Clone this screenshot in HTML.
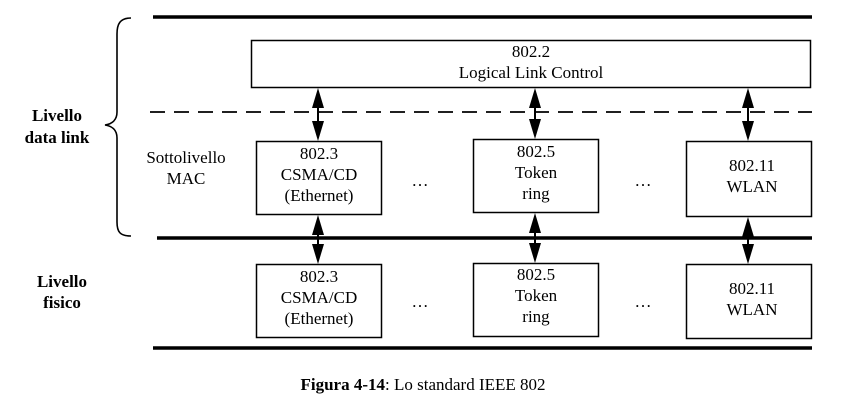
<!DOCTYPE html>
<html><head><style>
body{margin:0;background:#fff;}
svg{display:block;font-family:"Liberation Serif",serif;}
</style></head><body>
<svg width="847" height="414" viewBox="0 0 847 414" xmlns="http://www.w3.org/2000/svg">
<g stroke="#000" fill="none">
<line x1="153" y1="17" x2="812" y2="17" stroke-width="3.5"/>
<line x1="157" y1="238" x2="812" y2="238" stroke-width="3.5"/>
<line x1="153" y1="348" x2="812" y2="348" stroke-width="3.5"/>
<line x1="150" y1="112" x2="812" y2="112" stroke-width="1.8" stroke-dasharray="15,9"/>
<rect x="251.5" y="40.5" width="559" height="47" stroke-width="1.5"/>
<rect x="256.5" y="141.5" width="125" height="73" stroke-width="1.5"/>
<rect x="473.5" y="139.5" width="125" height="73" stroke-width="1.5"/>
<rect x="686.5" y="141.5" width="125" height="75" stroke-width="1.5"/>
<rect x="256.5" y="264.5" width="125" height="73" stroke-width="1.5"/>
<rect x="473.5" y="263.5" width="125" height="73" stroke-width="1.5"/>
<rect x="686.5" y="264.5" width="125" height="74" stroke-width="1.5"/>
<path d="M131,18 C120,18 117,24 117,34 L117,112 C117,120 112,124 105,125 C112,126 117,130 117,138 L117,222 C117,232 120,236 131,236" stroke-width="1.6"/>
<g stroke-width="2">
<line x1="318" y1="100" x2="318" y2="130"/>
<line x1="535" y1="100" x2="535" y2="128"/>
<line x1="748" y1="100" x2="748" y2="130"/>
<line x1="318" y1="227" x2="318" y2="253"/>
<line x1="535" y1="225" x2="535" y2="252"/>
<line x1="748" y1="229" x2="748" y2="253"/>
</g>
</g>
<g fill="#000">
<polygon points="318,88 312,108 324,108"/><polygon points="318,141 312,121 324,121"/>
<polygon points="535,88 529,108 541,108"/><polygon points="535,139 529,119 541,119"/>
<polygon points="748,88 742,108 754,108"/><polygon points="748,141 742,121 754,121"/>
<polygon points="318,215 312,235 324,235"/><polygon points="318,264 312,244 324,244"/>
<polygon points="535,213 529,233 541,233"/><polygon points="535,263 529,243 541,243"/>
<polygon points="748,217 742,237 754,237"/><polygon points="748,264 742,244 754,244"/>
</g>
<g font-size="17" text-anchor="middle" fill="#000">
<text x="531" y="57">802.2</text>
<text x="531" y="78">Logical Link Control</text>
<text x="319" y="159">802.3</text>
<text x="319" y="180">CSMA/CD</text>
<text x="319" y="201">(Ethernet)</text>
<text x="536" y="157">802.5</text>
<text x="536" y="178">Token</text>
<text x="536" y="199">ring</text>
<text x="752" y="171">802.11</text>
<text x="752" y="192">WLAN</text>
<text x="319" y="282">802.3</text>
<text x="319" y="303">CSMA/CD</text>
<text x="319" y="324">(Ethernet)</text>
<text x="536" y="280">802.5</text>
<text x="536" y="301">Token</text>
<text x="536" y="322">ring</text>
<text x="752" y="294">802.11</text>
<text x="752" y="315">WLAN</text>
<text x="186" y="163">Sottolivello</text>
<text x="186" y="184">MAC</text>
<text x="420" y="186">…</text>
<text x="643" y="186">…</text>
<text x="420" y="307">…</text>
<text x="643" y="307">…</text>
<g font-weight="bold">
<text x="57" y="121">Livello</text>
<text x="57" y="143">data link</text>
<text x="62" y="287">Livello</text>
<text x="62" y="308">fisico</text>
</g>
<text x="423" y="390"><tspan font-weight="bold">Figura 4-14</tspan>: Lo standard IEEE 802</text>
</g>
</svg>
</body></html>
